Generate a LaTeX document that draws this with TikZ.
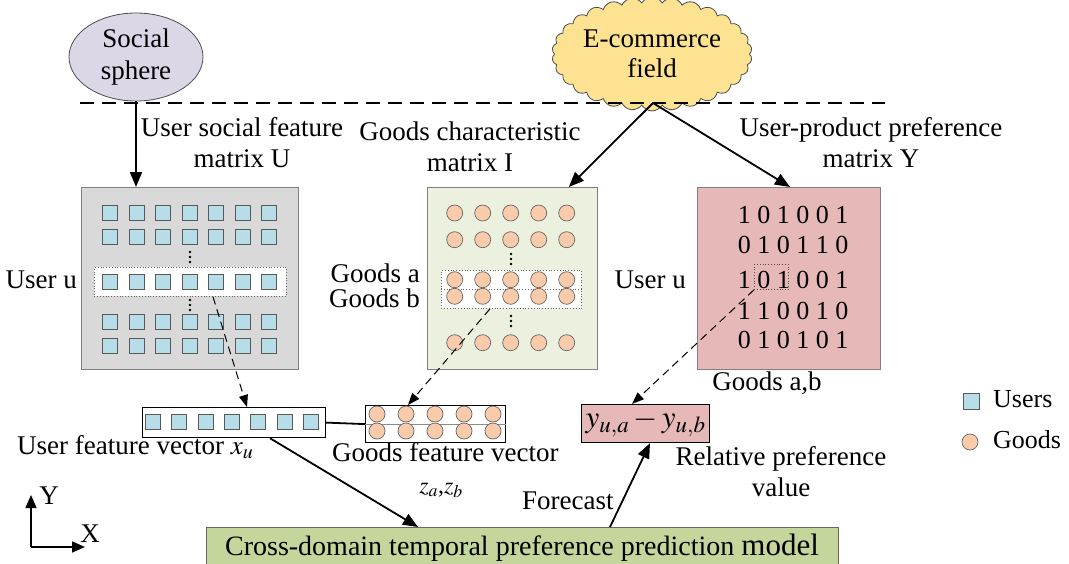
\documentclass[tikz,border=0pt]{standalone}
\usepackage{mathptmx}
\usepackage[no-math]{fontspec}
\setmainfont{Liberation Serif}
\usetikzlibrary{shapes.geometric,shapes.symbols,arrows.meta,calc}

\definecolor{usercol}{RGB}{183,222,232}
\definecolor{goodcol}{RGB}{249,203,170}
\definecolor{graybg}{RGB}{217,217,217}
\definecolor{greenbg}{RGB}{235,241,222}
\definecolor{pinkbg}{RGB}{230,184,183}
\definecolor{lavender}{RGB}{219,215,231}
\definecolor{cloudcol}{RGB}{253,226,146}
\definecolor{modelcol}{RGB}{196,214,155}

\begin{document}
\begin{tikzpicture}[x=1pt,y=-1pt,
  lbl/.style={font=\fontsize{27}{31}\selectfont, inner sep=0pt, align=center},
  panel/.style={draw=black!50, line width=0.8pt, anchor=north west, inner sep=0pt},
  usq/.style={draw=black!65, fill=usercol, line width=0.7pt, minimum size=15pt, inner sep=0pt},
  gdot/.style={circle, draw=black!60, fill=goodcol, line width=0.7pt, minimum size=16pt, inner sep=0pt},
  selbox/.style={draw=black!60, dotted, line width=0.8pt, fill=white, anchor=north west, inner sep=0pt},
  vecbox/.style={draw=black, line width=1.2pt, fill=white, anchor=north west, inner sep=0pt},
  arr/.style={line width=1.8pt, -{Triangle[length=15pt,width=12pt]}},
  darr/.style={line width=1pt, dash pattern=on 8pt off 5pt, -{Triangle[length=12pt,width=9pt]}}
]
\path[use as bounding box] (0,0) rectangle (1069,563);
\clip (0,0) rectangle (1069,563);

% sources
\node[ellipse, draw=black!70, line width=0.8pt, fill=lavender, minimum width=134pt, minimum height=88pt,
      inner sep=0pt, font=\fontsize{27}{32}\selectfont, align=center] (social) at (136,57) {Social\\sphere};
\node[cloud, cloud puffs=30, cloud puff arc=120, aspect=1.9, draw=black!70, line width=0.8pt, fill=cloudcol,
      minimum width=169pt, minimum height=88pt, inner sep=0pt,
      font=\fontsize{27}{30}\selectfont, align=center] (ecom) at (652,54) {E-commerce\\field};

% domain separator
\draw[line width=1.6pt, dash pattern=on 14pt off 8pt] (80,103) -- (885,103);
\coordinate (fork) at (653,103);

% user social feature matrix
\node[panel, fill=graybg, minimum width=217pt, minimum height=182pt] (lmat) at (81,187) {};
\node[selbox, minimum width=192pt, minimum height=29pt] (lsel) at (94,267) {};
\foreach \r in {213.3,236.7,281.7,322.3,345.7}
  \foreach \c in {0,...,6}
    \node[usq] at ({110+26.5*\c},\r) {};
\foreach \y in {252,257,262,300,305,310}
  \fill (190,\y) circle[radius=1.4pt];

% goods characteristic matrix
\node[panel, fill=greenbg, minimum width=170pt, minimum height=182pt] (mmat) at (427,187) {};
\node[selbox, minimum width=140pt, minimum height=38pt] (msel) at (441,270) {};
\draw[black!60, dotted, line width=0.8pt] (msel.west) -- (msel.east);
\foreach \r in {213,239.7,279.7,296.3,342.7}
  \foreach \c in {0,...,4}
    \node[gdot] at ({454.7+28*\c},\r) {};
\foreach \y in {254,259,264,316,321,326}
  \fill (511,\y) circle[radius=1.4pt];

% user-product preference matrix
\node[panel, fill=pinkbg, minimum width=183pt, minimum height=182pt] (rmat) at (697,187) {};
\begin{scope}[every node/.style={anchor=base, inner sep=0pt, font=\fontsize{26}{30}\selectfont}]
  \node at (793,223) {1 0 1 0 0 1};
  \node at (793,253) {0 1 0 1 1 0};
  \node at (793,288) {1 0 1 0 0 1};
  \node at (793,319) {1 1 0 0 1 0};
  \node at (793,348) {0 1 0 1 0 1};
\end{scope}
\node[draw=black!70, dotted, line width=0.8pt, anchor=north west, inner sep=0pt,
      minimum width=34pt, minimum height=25pt] (rsel) at (754,264) {};

% labels around the matrices
\node[lbl] (lablU) at (242,143) {User social feature\\matrix U};
\node[lbl] (lablI) at (470,147) {Goods characteristic\\matrix I};
\node[lbl] (lablY) at (871,143) {User-product preference\\matrix Y};
\node[lbl, anchor=base east] (useru1) at (77,288) {User u};
\node[lbl, anchor=base east] (gooda) at (420,282) {Goods a};
\node[lbl, anchor=base east] (goodb) at (420,307) {Goods b};
\node[lbl, anchor=base east] (useru2) at (686,288) {User u};
\node[lbl, anchor=base] (goodsab) at (767,390) {Goods a,b};

% feature vectors
\node[vecbox, minimum width=183pt, minimum height=30pt] (uvec) at (142,407) {};
\foreach \c in {0,...,6}
  \node[usq] at ({153+26.3*\c},422) {};
\node[vecbox, minimum width=140pt, minimum height=37pt] (gvec) at (365,405) {};
\draw[black!45, line width=0.8pt] (gvec.west) -- (gvec.east);
\foreach \c in {0,...,4} {
  \node[gdot] at ({377+29*\c},414) {};
  \node[gdot] at ({377+29*\c},431) {};
}
\draw[line width=1.8pt] (uvec.east) -- (gvec.west);

\node[lbl, anchor=base west] (uveclab) at (17,454) {User feature vector $x_u$};
\node[lbl, anchor=base west] (gveclab) at (332,461) {Goods feature vector};
\node[lbl, font=\fontsize{24}{28}\selectfont] (zab) at (441,490) {$z_a$,$z_b$};

% relative preference value
\node[draw=black, line width=1.2pt, fill=pinkbg, anchor=north west, inner sep=0pt,
      minimum width=128pt, minimum height=38pt, font=\fontsize{31}{34}\selectfont] (ybox) at (581,404)
  {$y_{u,a}-y_{u,b}$};
\node[lbl] (rellab) at (781,472) {Relative preference\\value};
\node[lbl, anchor=base west] (fclab) at (522,509) {Forecast};

% prediction model
\node[draw=black!60, line width=0.8pt, fill=modelcol, anchor=north west, inner sep=0pt,
      minimum width=632pt, minimum height=60pt] (model) at (206,527) {};
\node[anchor=base, inner sep=0pt, font=\fontsize{28}{32}\selectfont] (modellab) at (522,555)
  {Cross-domain temporal preference prediction {\fontsize{31}{34}\selectfont model}};

% legend
\node[usq, minimum size=16pt] (legu) at (971,401) {};
\node[lbl, anchor=base west, font=\fontsize{26}{30}\selectfont] (legutxt) at (993,407) {Users};
\node[gdot] (legg) at (970,442) {};
\node[lbl, anchor=base west, font=\fontsize{26}{30}\selectfont] (leggtxt) at (993,448) {Goods};

% axes
\coordinate (origin) at (31,547);
\coordinate (ytip) at (31,495);
\coordinate (xtip) at (85,547);
\draw[line width=1.6pt, -{Triangle[length=13pt,width=11pt]}] (origin) -- (ytip);
\draw[line width=1.6pt, -{Triangle[length=13pt,width=11pt]}] (origin) -- (xtip);
\node[lbl] (ylab) at (49,496) {Y};
\node[lbl] (xlab) at (90,534) {X};

% flows
\draw[arr] (social.south) -- (social.south |- lmat.north);
\draw[arr] (fork) -- ($(mmat.north east)+(-29,0)$);
\draw[arr] (fork) -- ($(rmat.north west)+(93,0)$);
\draw[darr] ($(lsel.south west)+(119,0)$) -- ($(uvec.north west)+(105,0)$);
\draw[darr] ($(msel.south west)+(49,0)$) -- ($(gvec.north west)+(43,0)$);
\draw[darr] (rsel.south west) -- ($(ybox.north west)+(51,0)$);
\draw[arr] ($(uvec.south west)+(128,0)$) -- ($(model.north west)+(212,0)$);
\draw[arr] ($(model.north west)+(404,0)$) -- ($(ybox.south west)+(69,0)$);
\end{tikzpicture}
\end{document}
